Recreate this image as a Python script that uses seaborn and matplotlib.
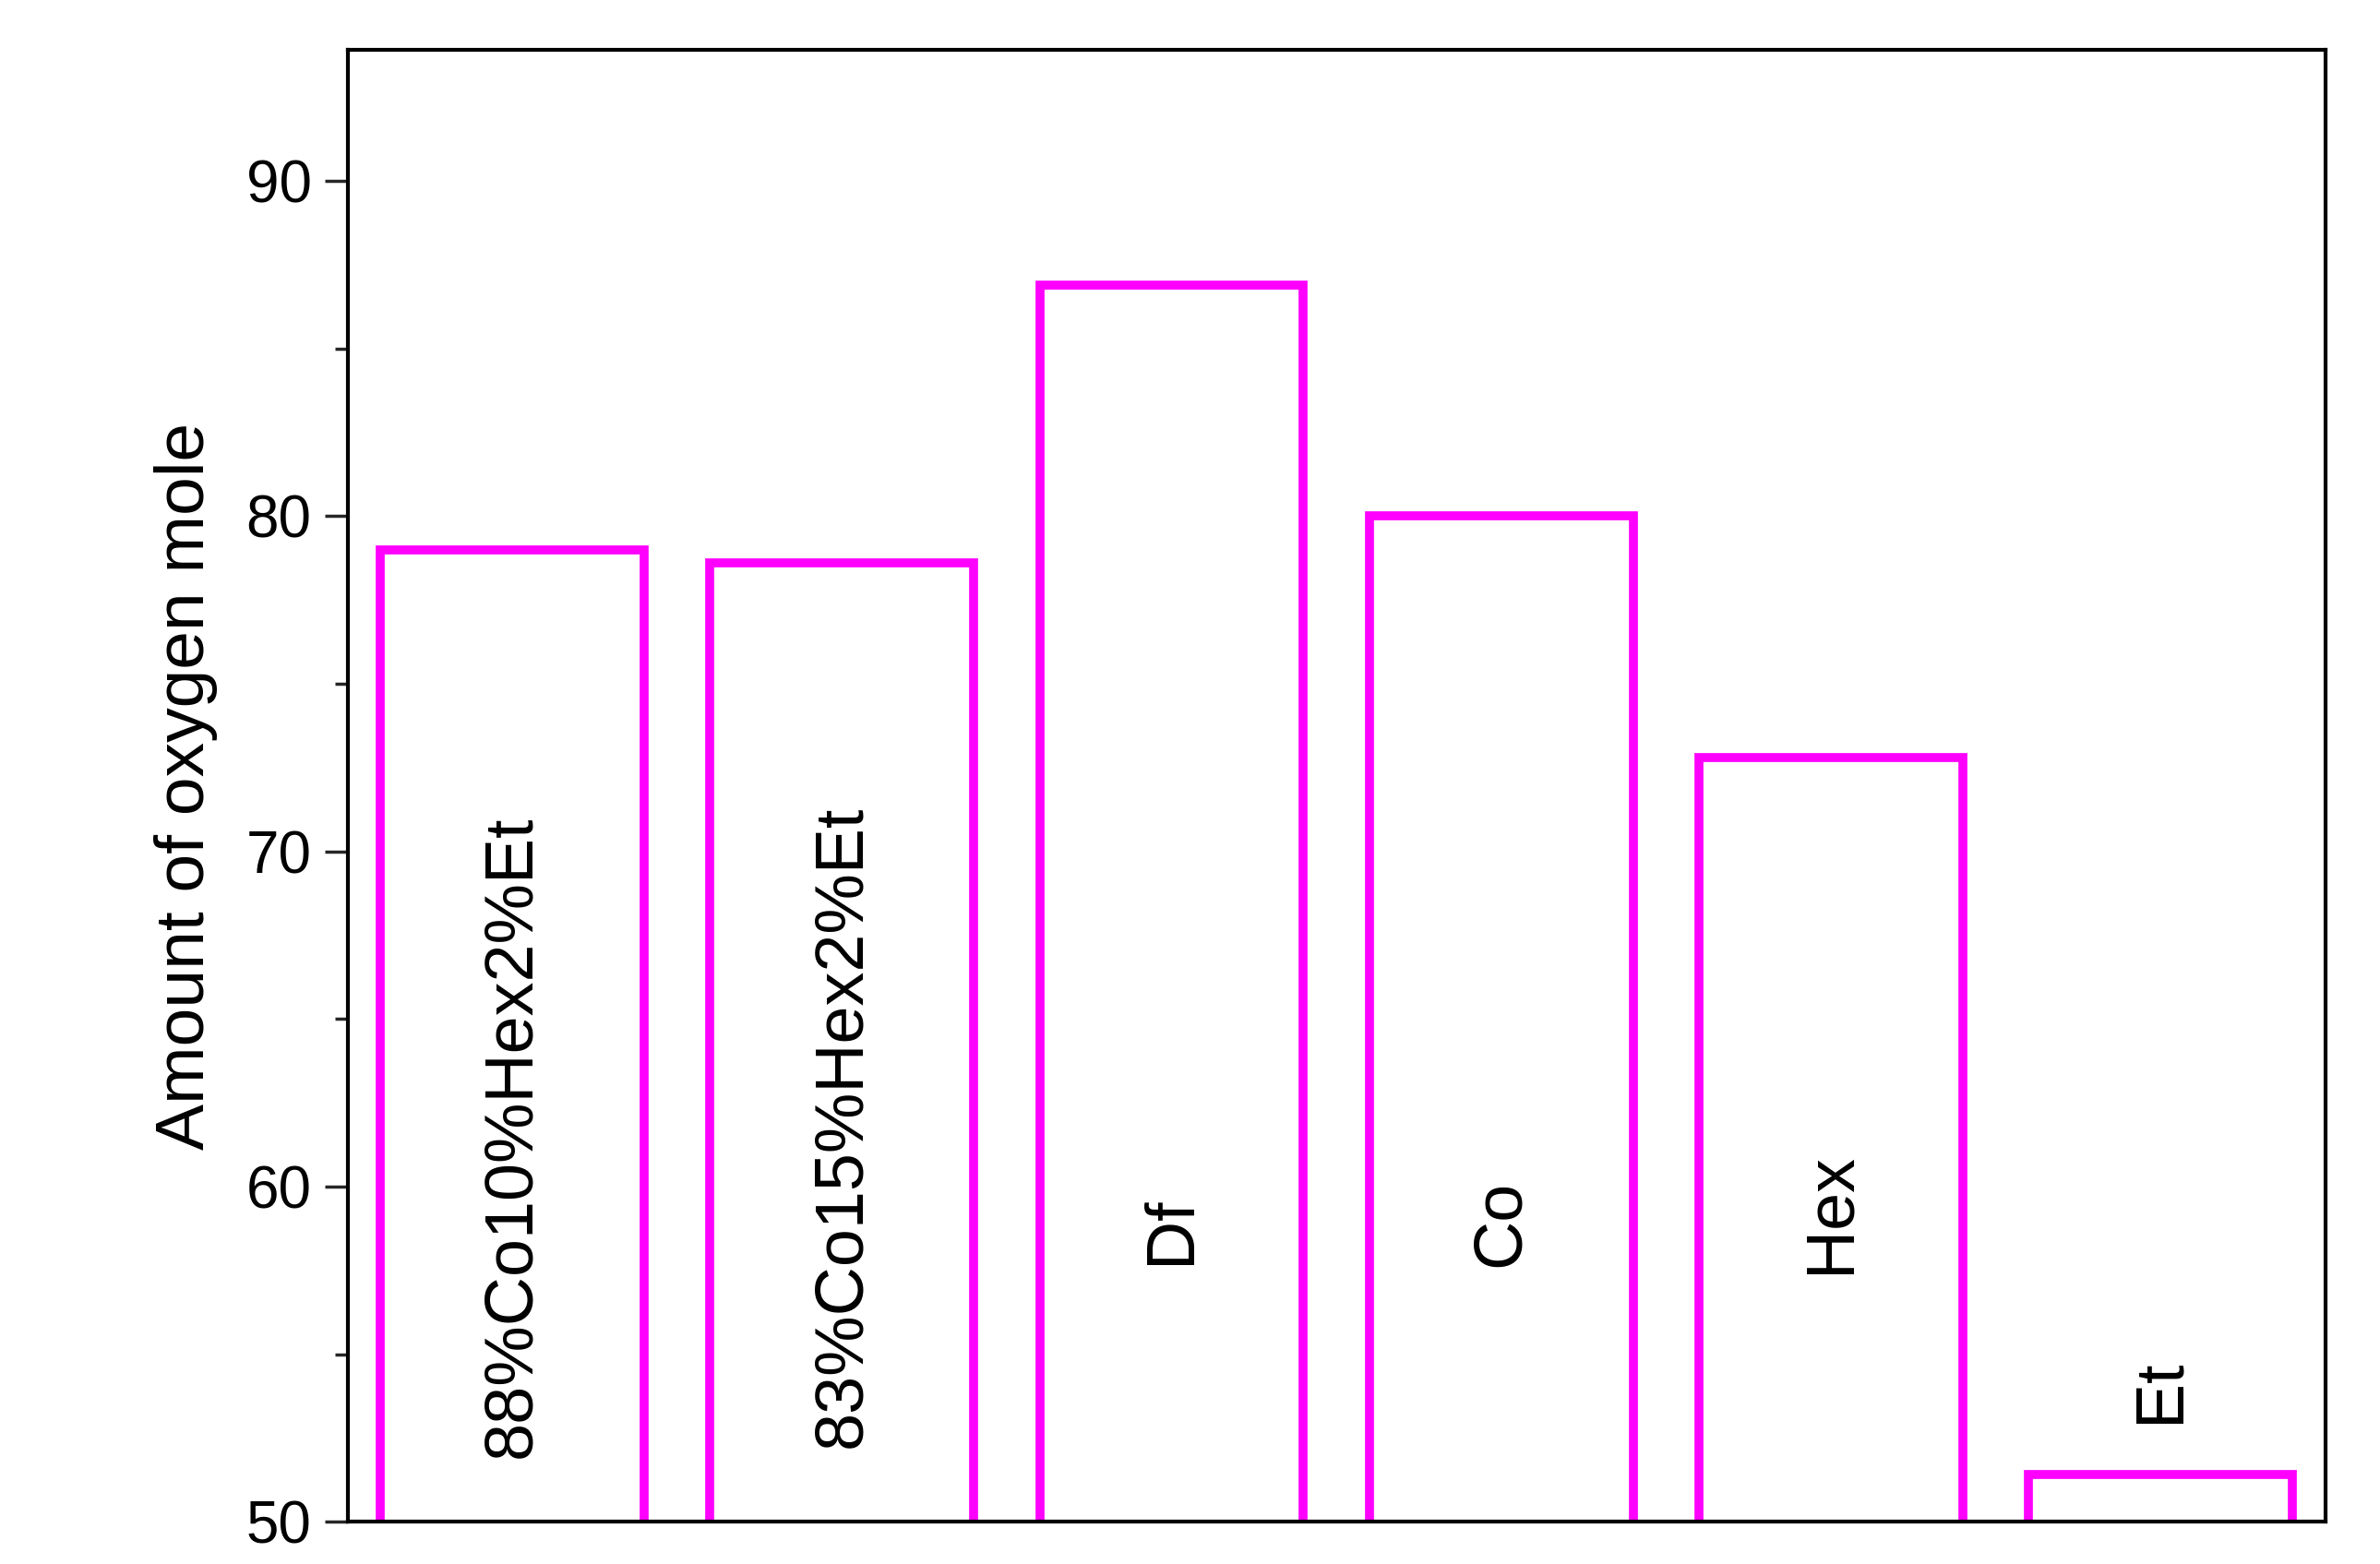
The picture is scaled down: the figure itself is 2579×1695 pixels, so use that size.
import matplotlib
matplotlib.use("Agg")
import matplotlib.pyplot as plt
import seaborn as sns
import pandas as pd
from matplotlib.ticker import MultipleLocator

categories = ["88%Co10%Hex2%Et", "83%Co15%Hex2%Et", "Df", "Co", "Hex", "Et"]
values = [79.0, 78.6, 86.9, 80.0, 72.8, 51.4]
label_y = [61.5, 61.8, 58.7, 58.9, 59.2, 53.9]

sns.set_style("white")
plt.rcParams['font.family'] = ['Liberation Sans', 'DejaVu Sans']
plt.rcParams['text.color'] = 'black'

df = pd.DataFrame({"cat": categories, "val": values})
fig = plt.figure(figsize=(25.79, 16.95), dpi=100)
ax = fig.add_axes([0.146, 0.027, 0.831, 0.941])
sns.barplot(data=df, x="cat", y="val", ax=ax, color="white", edgecolor="#FF00FF",
            linewidth=7, width=0.8)
for i, (c, y) in enumerate(zip(categories, label_y)):
    ax.text(i, y, c, rotation=90, ha="center", va="center", fontsize=53, color="black")
ax.set_ylim(50, 93.9)
ax.set_xlim(-0.5, 5.5)
ax.set_xticks([])
ax.set_xlabel("")
ax.set_ylabel("Amount of oxygen mole", fontsize=54, labelpad=22, color="black")
ax.yaxis.set_major_locator(MultipleLocator(10))
ax.yaxis.set_minor_locator(MultipleLocator(5))
ax.tick_params(axis="y", which="major", direction="out", length=18, width=2.5, labelsize=46,
               left=True, pad=10, labelcolor="black")
ax.tick_params(axis="y", which="minor", direction="out", length=10, width=2.5, left=True)
for s in ax.spines.values():
    s.set_linewidth(3)
    s.set_color("black")
fig.savefig("out.png", dpi=100)
